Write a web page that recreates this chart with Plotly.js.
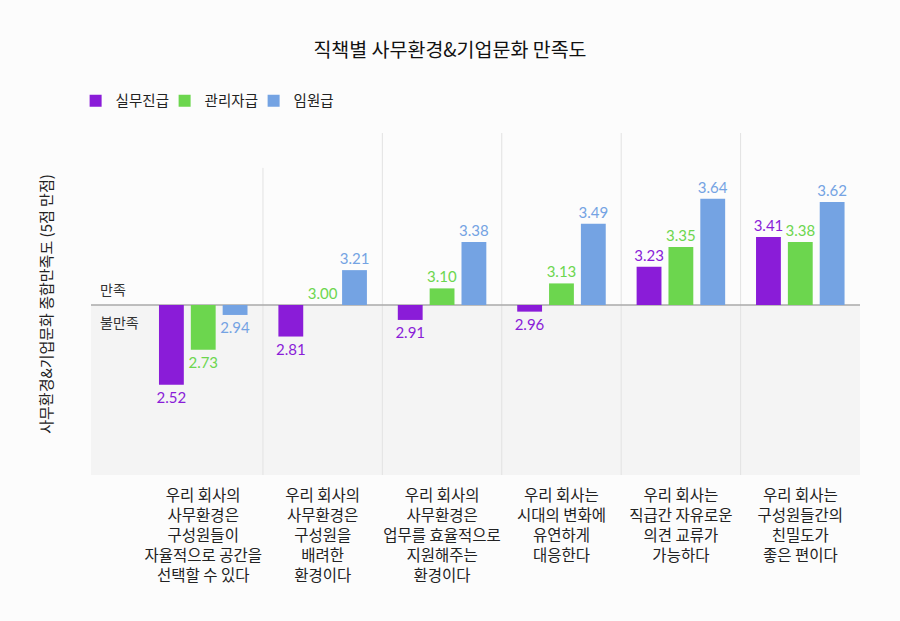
<!DOCTYPE html>
<html>
<head>
<meta charset="utf-8">
<script src="https://cdn.plot.ly/plotly-3.0.1.min.js"></script>
<style>
  html, body { margin: 0; padding: 0; background: #fcfcfc; }
  #chart { width: 900px; height: 621px; }
</style>
</head>
<body>
<div id="chart"></div>
<script>
// 직책별 사무환경&기업문화 만족도 (5점 만점, 기준선 3점)
const categories = [
  '우리 회사의<br>사무환경은<br>구성원들이<br>자율적으로 공간을<br>선택할 수 있다',
  '우리 회사의<br>사무환경은<br>구성원을<br>배려한<br>환경이다',
  '우리 회사의<br>사무환경은<br>업무를 효율적으로<br>지원해주는<br>환경이다',
  '우리 회사는<br>시대의 변화에<br>유연하게<br>대응한다',
  '우리 회사는<br>직급간 자유로운<br>의견 교류가<br>가능하다',
  '우리 회사는<br>구성원들간의<br>친밀도가<br>좋은 편이다'
]
const seriesNames = ['실무진급', '관리자급', '임원급']
const staffValues = [2.52, 2.81, 2.91, 2.96, 3.23, 3.41]
const managerValues = [2.73, 3.00, 3.10, 3.13, 3.35, 3.38]
const executiveValues = [2.94, 3.21, 3.38, 3.49, 3.64, 3.62]
const baseline = 3
const yRange = [1.976, 4.036]

const colors = ['#8a1cd8', '#6cd64e', '#74a3e3']
const fontKR = '"Noto Sans CJK KR", "Noto Sans", sans-serif'
const fontNum = 'Lato, "Noto Sans", sans-serif'

const xIdx = categories.map((_, i) => i)

const data = [staffValues, managerValues, executiveValues].map(function(values, k) {
  return {
    type: 'bar',
    name: seriesNames[k],
    x: xIdx,
    y: values.map(v => v - baseline),
    base: baseline,
    text: values.map(v => v.toFixed(2)),
    textposition: 'outside',
    constraintext: 'none',
    textfont: { family: fontNum, size: 15, color: colors[k] },
    cliponaxis: false,
    marker: { color: colors[k] },
    hoverinfo: 'skip'
  }
})

// category separators; the first one is shorter in the original
const shapes = [
  { type: 'rect', xref: 'paper', yref: 'y', x0: 0, x1: 1, y0: yRange[0], y1: baseline,
    fillcolor: '#f4f4f4', line: { width: 0 }, layer: 'below' }
]
for (let i = 0; i < categories.length - 1; i++) {
  shapes.push({
    type: 'line', xref: 'x', yref: 'paper',
    x0: i + 0.5, x1: i + 0.5, y0: 0, y1: i === 0 ? 0.898 : 1,
    line: { color: '#e2e2e2', width: 1 }, layer: 'below'
  })
}
shapes.push({
  type: 'line', xref: 'paper', yref: 'y', x0: 0, x1: 1, y0: baseline, y1: baseline,
  line: { color: '#aaaaaa', width: 1.5 }, layer: 'below'
})

const layout = {
  width: 900,
  height: 621,
  paper_bgcolor: '#fcfcfc',
  plot_bgcolor: '#fcfcfc',
  margin: { l: 91, r: 40, t: 133, b: 146 },
  font: { family: fontKR, size: 14, color: '#222222' },
  title: {
    text: '직책별 사무환경&기업문화 만족도',
    font: { family: fontKR, size: 19.5, color: '#111111' },
    x: 0.5, xanchor: 'center', y: 0.919, yanchor: 'middle'
  },
  barmode: 'group',
  bargap: 0.2,
  bargroupgap: 0.22,
  showlegend: true,
  legend: {
    orientation: 'h', x: -0.02, xanchor: 'left', y: 1.094, yanchor: 'middle',
    font: { family: fontKR, size: 14.5, color: '#222222' },
    bgcolor: 'rgba(0,0,0,0)', entrywidth: 44, traceorder: 'normal'
  },
  xaxis: {
    type: 'linear',
    range: [-0.94, 5.5],
    tickmode: 'array',
    tickvals: xIdx,
    ticktext: categories,
    showgrid: false, zeroline: false, showline: false, ticks: '',
    tickfont: { family: fontKR, size: 15.5, color: '#222222' },
    ticklabelstandoff: 9,
    fixedrange: true
  },
  yaxis: {
    range: yRange,
    showgrid: false, zeroline: false, showticklabels: false, showline: false,
    title: {
      text: '사무환경&기업문화 종합만족도 (5점 만점)',
      font: { family: fontKR, size: 15, color: '#222222' },
      standoff: 33
    },
    fixedrange: true
  },
  annotations: [
    { xref: 'paper', yref: 'y', x: 0.009, y: baseline, xanchor: 'left', yanchor: 'bottom',
      yshift: 4, text: '만족', showarrow: false, font: { family: fontKR, size: 14, color: '#333333' } },
    { xref: 'paper', yref: 'y', x: 0.009, y: baseline, xanchor: 'left', yanchor: 'top',
      yshift: -5, text: '불만족', showarrow: false, font: { family: fontKR, size: 14, color: '#333333' } }
  ],
  shapes: shapes
}

const config = { responsive: false, displayModeBar: false, staticPlot: true }

Plotly.newPlot('chart', data, layout, config)
</script>
</body>
</html>
